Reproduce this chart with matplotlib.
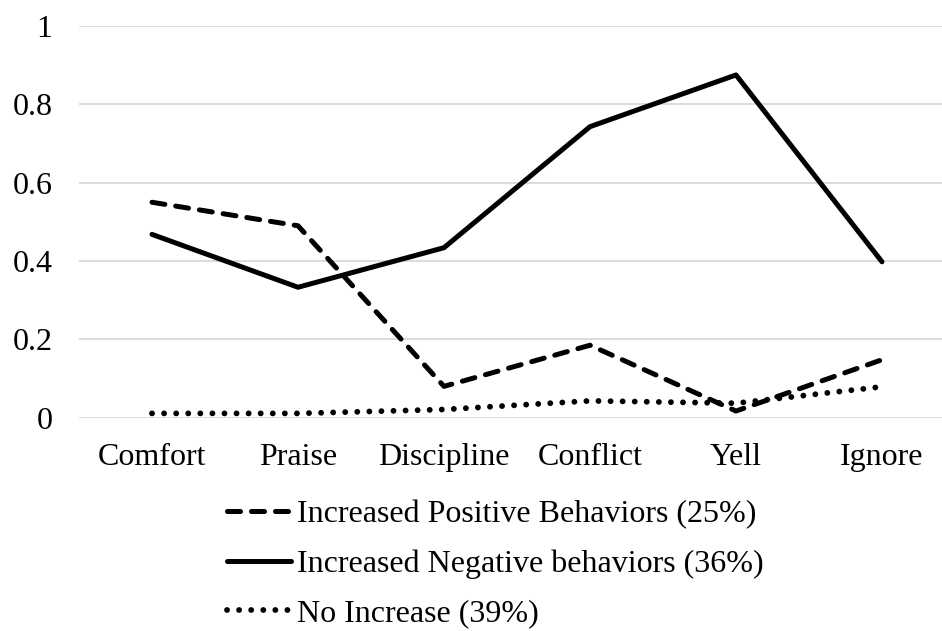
import numpy as np
import matplotlib.pyplot as plt
from matplotlib.lines import Line2D

plt.rcParams['font.family'] = ['Liberation Serif', 'DejaVu Serif']

categories = ['Comfort', 'Praise', 'Discipline', 'Conflict', 'Yell', 'Ignore']
positive = [0.55, 0.49, 0.08, 0.185, 0.017, 0.148]
negative = [0.468, 0.333, 0.434, 0.743, 0.875, 0.398]
no_increase = [0.011, 0.011, 0.021, 0.043, 0.037, 0.079]
labels = ['Increased Positive Behaviors (25%)',
          'Increased Negative behaviors (36%)',
          'No Increase (39%)']

lw = 3.6
dot_lw = 4.2
dash_style = (0, (2.6, 2.2))
dot_style = (0, (0.01, 2.06))

fig = plt.figure(figsize=(9.42, 6.31), dpi=100)
ax = fig.add_axes([79 / 942, (631 - 417.7) / 631, 876 / 942, 391.7 / 631])

x = np.arange(len(categories))
ax.plot(x, positive, color='black', lw=lw, linestyle=dash_style,
        dash_capstyle='round', dash_joinstyle='round')
ax.plot(x, negative, color='black', lw=lw, solid_capstyle='round',
        solid_joinstyle='round')
ax.plot(x, no_increase, color='black', lw=dot_lw, linestyle=dot_style,
        dash_capstyle='round')

ax.set_xlim(-0.5, 5.5)
ax.set_ylim(0, 1)
ax.set_yticks([0, 0.2, 0.4, 0.6, 0.8, 1])
ax.set_yticklabels(['0', '0.2', '0.4', '0.6', '0.8', '1'])
ax.set_xticks(x)
ax.set_xticklabels(categories)
ax.tick_params(axis='both', length=0, labelsize=23)
ax.tick_params(axis='y', pad=19)
ax.tick_params(axis='x', pad=18)
ax.grid(axis='y', color='#d9d9d9', lw=1.3)
ax.set_axisbelow(True)
for s in ax.spines.values():
    s.set_visible(False)

handles = [
    Line2D([], [], color='black', lw=lw, linestyle=dash_style, dash_capstyle='round'),
    Line2D([], [], color='black', lw=lw, solid_capstyle='round'),
    Line2D([], [], color='black', lw=dot_lw, linestyle=dot_style, dash_capstyle='round'),
]
fig.legend(handles, labels, loc='upper left', bbox_to_anchor=(227 / 942, 1 - 500 / 631),
           frameon=False, fontsize=23, handlelength=2.0, handletextpad=0.2,
           labelspacing=0.63, borderaxespad=0, borderpad=0)

fig.savefig('out.png', dpi=100)
